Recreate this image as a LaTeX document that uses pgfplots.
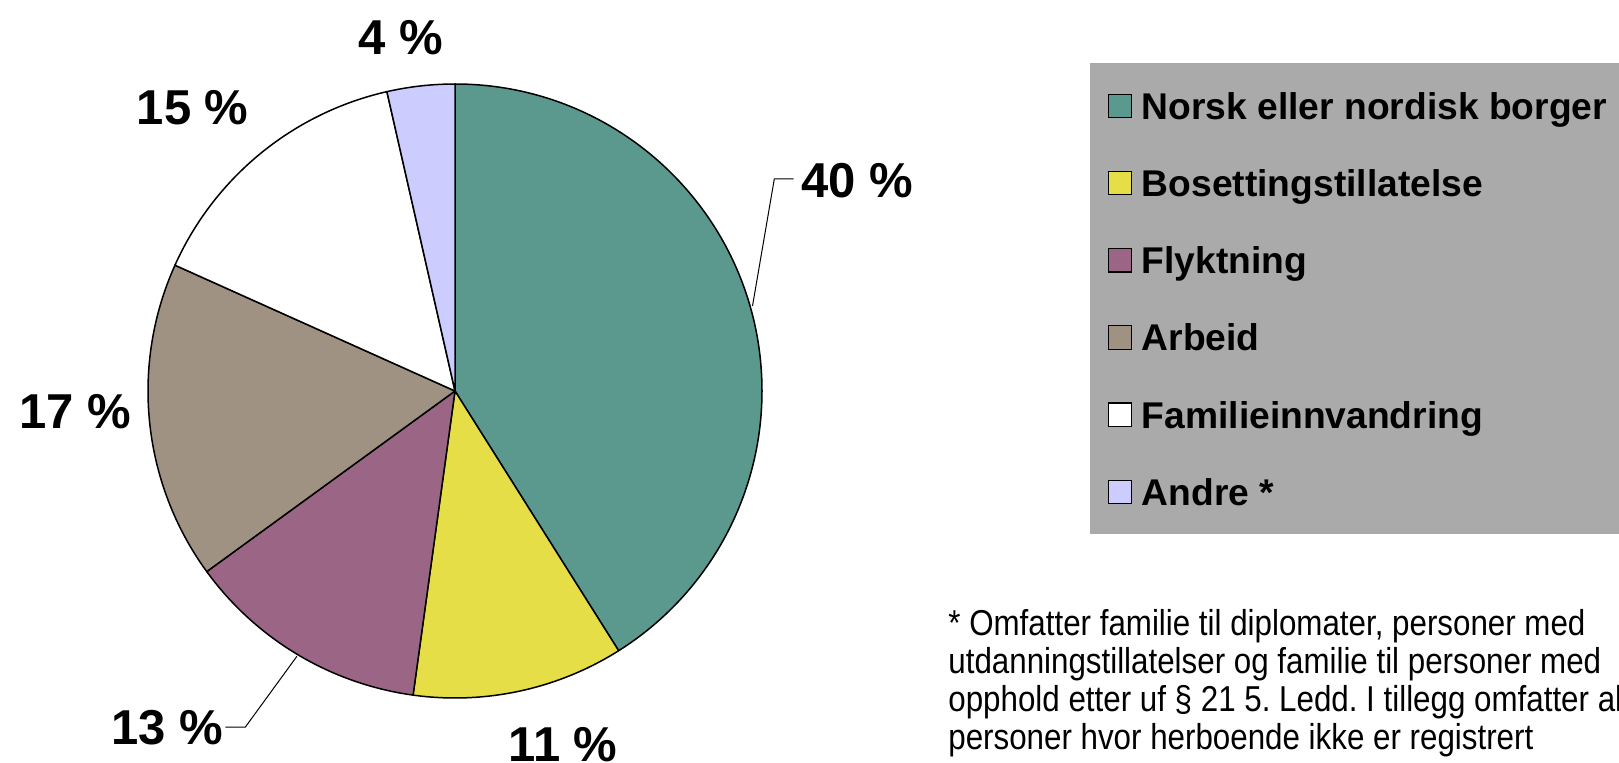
\documentclass[border=0pt]{standalone}
\usepackage{pgfplots}
\pgfplotsset{compat=1.18}
\usepackage{pgfplotstable}
\usepackage{fontspec}
\setmainfont{Liberation Sans}
\newfontfamily\narrowfont[FakeStretch=0.87]{Liberation Sans}
\frenchspacing

\definecolor{pie0}{RGB}{91,152,142}
\definecolor{pie1}{RGB}{230,222,70}
\definecolor{pie2}{RGB}{155,101,133}
\definecolor{pie3}{RGB}{159,146,131}
\definecolor{pie4}{RGB}{255,255,255}
\definecolor{pie5}{RGB}{204,204,255}
\definecolor{legendgray}{RGB}{170,170,170}

% shares of the slices (clockwise from 12 o'clock)
\pgfplotstableread{
share
41.05
11.13
12.81
16.73
14.72
3.56
}\piedata

\begin{document}
\begin{tikzpicture}
\def\cum{0}%
\pgfplotsforeachungrouped \i in {0,...,5}{%
  \pgfplotstablegetelem{\i}{share}\of\piedata%
  \pgfmathsetmacro\sa{90-3.6*\cum}%
  \pgfmathsetmacro\cum{\cum+\pgfplotsretval}%
  \pgfmathsetmacro\ea{90-3.6*\cum}%
  \expandafter\xdef\csname pieS\i\endcsname{\sa}%
  \expandafter\xdef\csname pieE\i\endcsname{\ea}%
}%
\begin{axis}[
  scale only axis,
  width=809.5pt, height=381pt,
  xmin=0, xmax=1619, ymin=0, ymax=762,
  hide axis,
  clip=true,
  legend style={
    at={(0.67325,0.91732)}, anchor=north west,
    fill=legendgray, draw=none,
    inner xsep=8.75pt, inner ysep=14.6pt,
    row sep=25.3pt, column sep=4.7pt,
    font=\bfseries\fontsize{18.6}{21}\selectfont,
    nodes={inner sep=0pt, text height=13.3pt, text depth=0pt},
  },
  legend cell align=left,
]
\pgfplotsinvokeforeach{0,...,5}{%
  \filldraw[fill=pie#1, draw=black, line width=0.75pt, line join=round]
    (axis cs:455,371) -- ++(\csname pieS#1\endcsname:153.5pt)
    arc[start angle=\csname pieS#1\endcsname, end angle=\csname pieE#1\endcsname, radius=153.5pt] -- cycle;
}

\addlegendimage{legend image code/.code={\draw[fill=pie0, draw=black, line width=0.6pt] (0pt,-5.85pt) rectangle (11.7pt,5.85pt);}}
\addlegendentry{Norsk eller nordisk borger\hspace{12pt}}
\addlegendimage{legend image code/.code={\draw[fill=pie1, draw=black, line width=0.6pt] (0pt,-5.85pt) rectangle (11.7pt,5.85pt);}}
\addlegendentry{Bosettingstillatelse}
\addlegendimage{legend image code/.code={\draw[fill=pie2, draw=black, line width=0.6pt] (0pt,-5.85pt) rectangle (11.7pt,5.85pt);}}
\addlegendentry{Flyktning}
\addlegendimage{legend image code/.code={\draw[fill=pie3, draw=black, line width=0.6pt] (0pt,-5.85pt) rectangle (11.7pt,5.85pt);}}
\addlegendentry{Arbeid}
\addlegendimage{legend image code/.code={\draw[fill=pie4, draw=black, line width=0.6pt] (0pt,-5.85pt) rectangle (11.7pt,5.85pt);}}
\addlegendentry{Familieinnvandring}
\addlegendimage{legend image code/.code={\draw[fill=pie5, draw=black, line width=0.6pt] (0pt,-5.85pt) rectangle (11.7pt,5.85pt);}}
\addlegendentry{Andre *}

% leader lines
\draw[line width=0.5pt] (axis cs:793.7,583) -- (axis cs:774.3,583) -- (axis cs:752.5,456);
\draw[line width=0.5pt] (axis cs:225.4,35) -- (axis cs:245.4,35) -- (axis cs:296.9,105.7);

% slice labels
\begin{scope}[every node/.style={anchor=base, inner sep=0pt, font=\bfseries\fontsize{24.5}{28}\selectfont}]
\node at (axis cs:857.5,564.5) {40 \%};
\node at (axis cs:563,1) {11 \%};
\node at (axis cs:167,17.5) {13 \%};
\node at (axis cs:75,334) {17 \%};
\node at (axis cs:192.7,637.5) {15 \%};
\node at (axis cs:400.5,707.3) {4 \%};
\end{scope}

% footnote
\begin{scope}[every node/.style={anchor=base west, inner sep=0pt, font=\narrowfont\fontsize{18}{20}\selectfont}]
\node at (axis cs:948,127) {* Omfatter familie til diplomater, personer med};
\node at (axis cs:948,89) {utdanningstillatelser og familie til personer med};
\node at (axis cs:948,51) {opphold etter uf \S{} 21 5. Ledd. I tillegg omfatter alle};
\node at (axis cs:948,13) {personer hvor herboende ikke er registrert};
\end{scope}

\coordinate (BL) at (axis cs:0,0);
\coordinate (TR) at (axis cs:1619,762);
\end{axis}
\pgfresetboundingbox
\path[use as bounding box] (BL) rectangle (TR);
\end{tikzpicture}
\end{document}
